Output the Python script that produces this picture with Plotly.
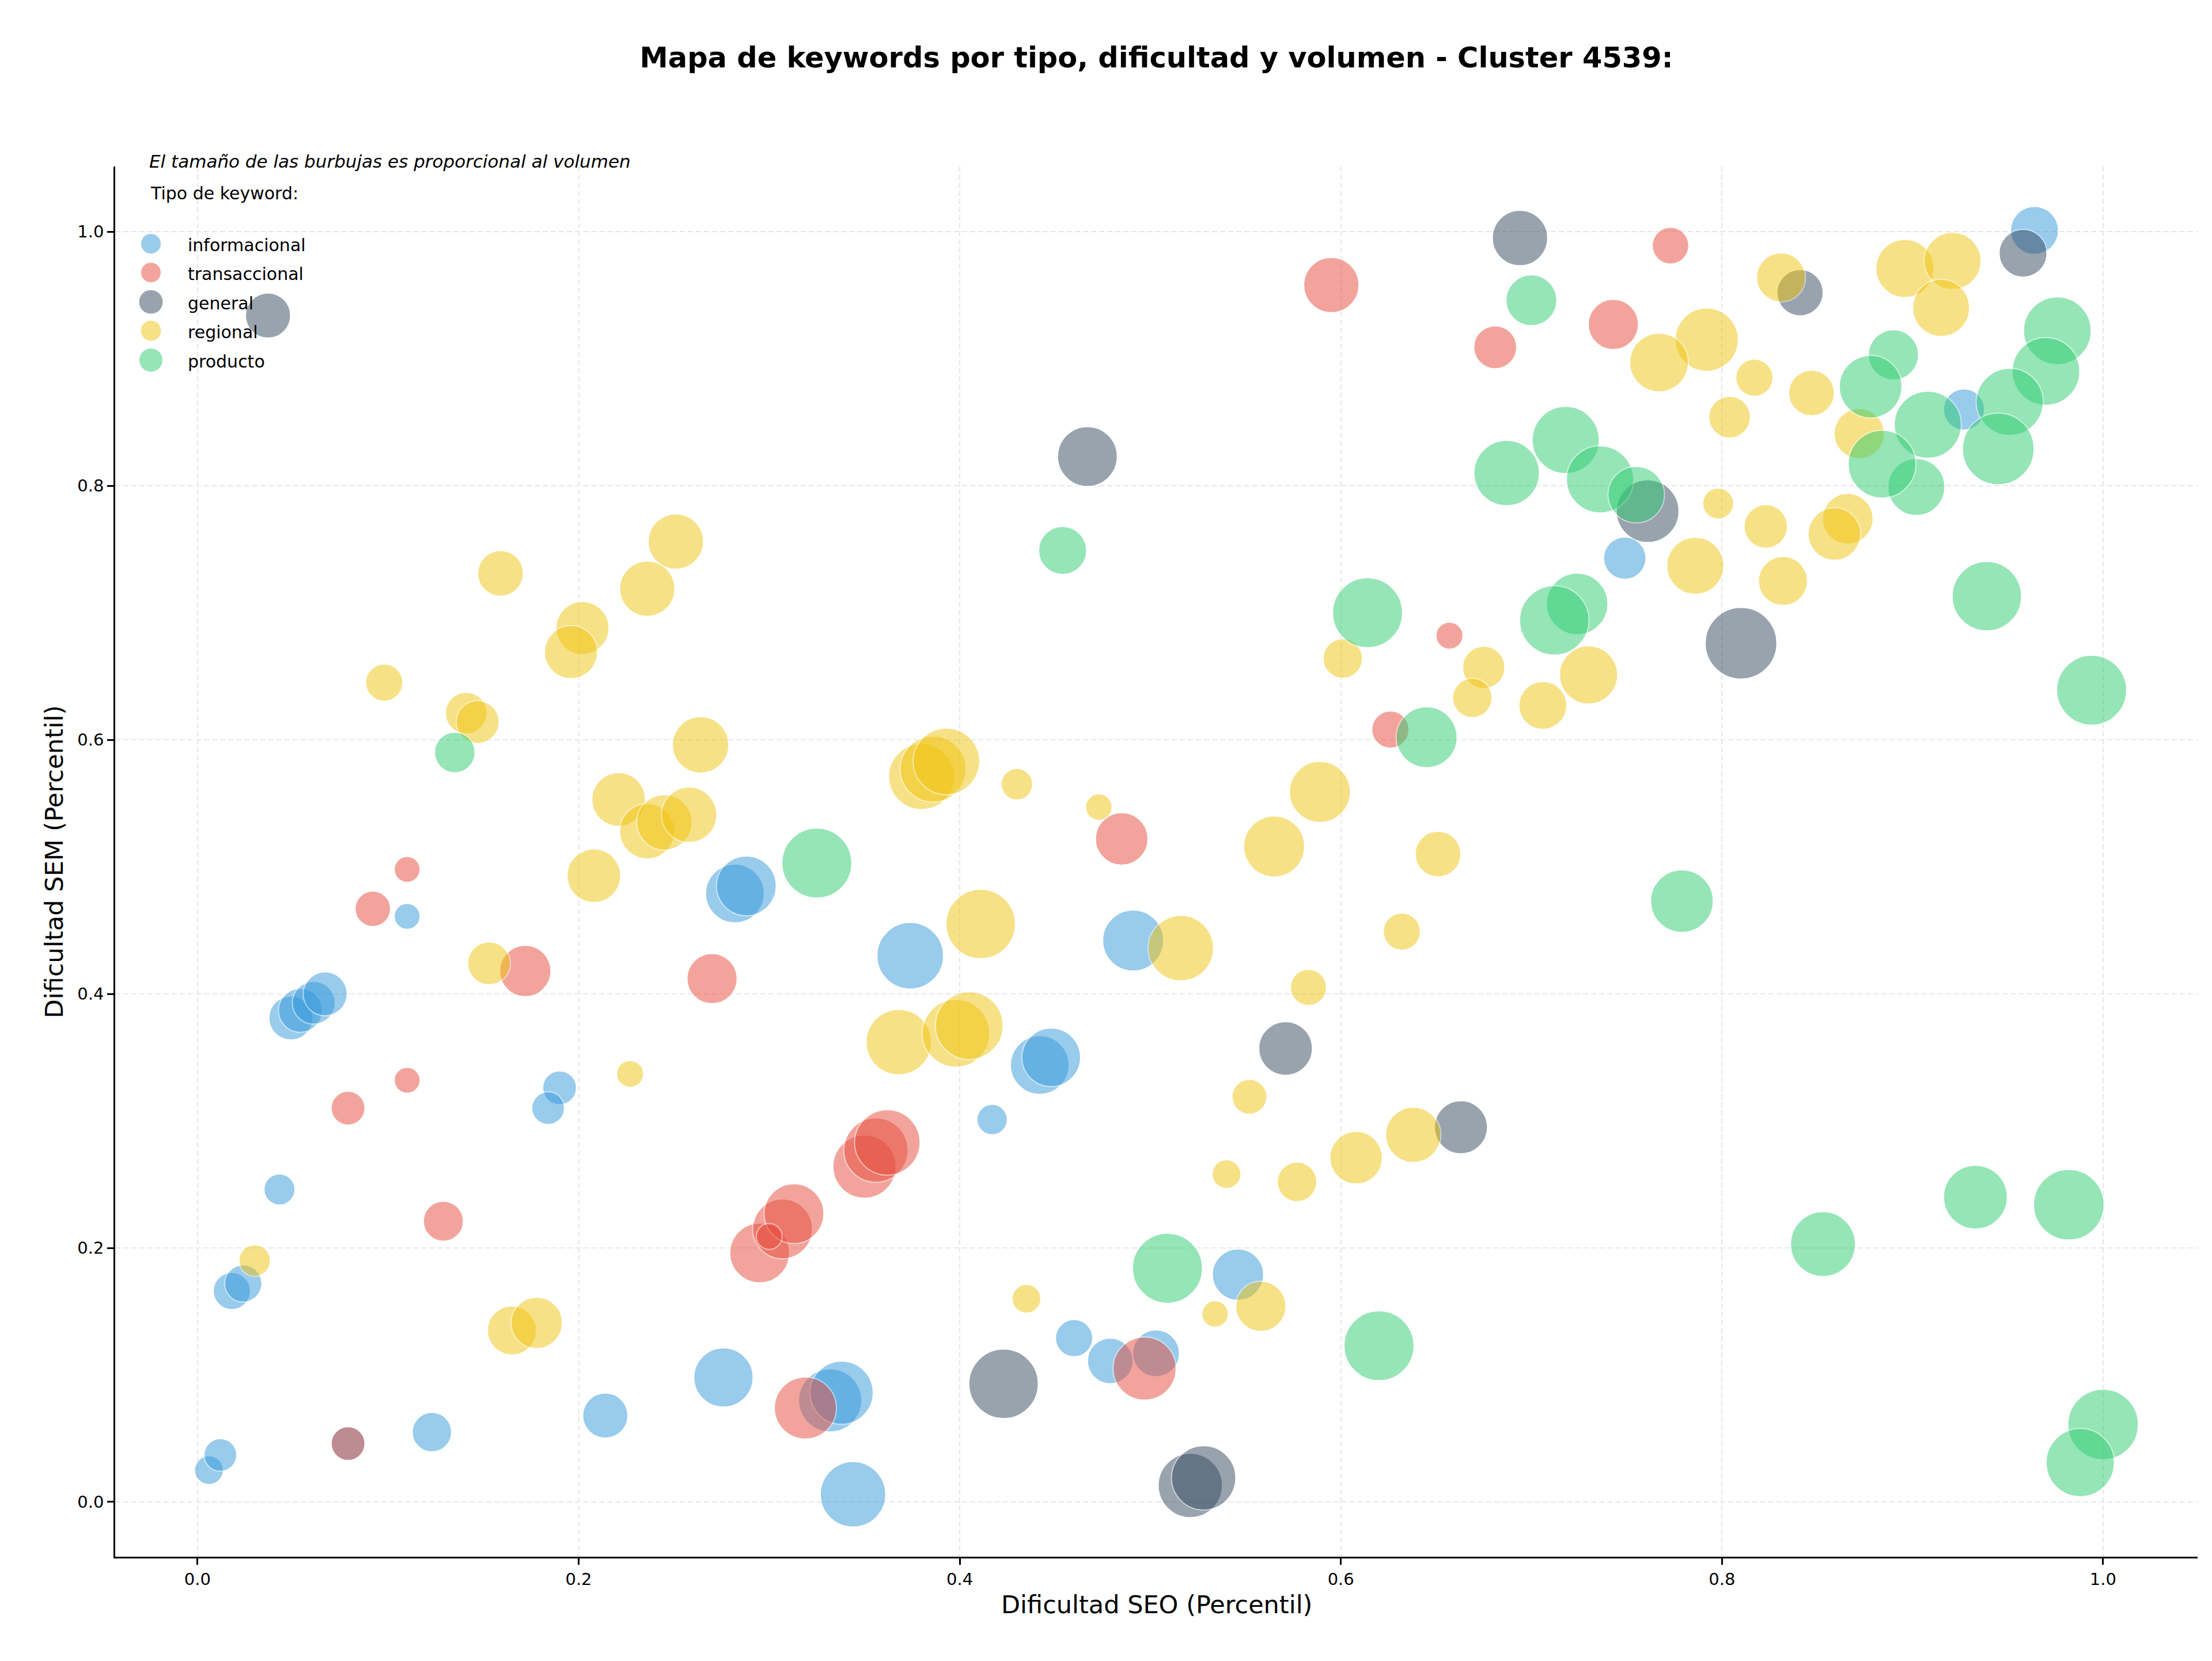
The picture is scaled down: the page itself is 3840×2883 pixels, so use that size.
import plotly.graph_objects as go

# ---------------- data ----------------
tipos = ["informacional", "transaccional", "general", "regional", "producto"]
colores = ["#3498db", "#e74c3c", "#34495e", "#f1c40f", "#2ecc71"]

info_seo = [0.964, 0.927, 0.749, 0.282, 0.288, 0.374, 0.491, 0.442, 0.448, 0.417, 0.110,
            0.049, 0.054, 0.061, 0.067, 0.190, 0.184, 0.043, 0.018, 0.024, 0.006, 0.012,
            0.123, 0.214, 0.276, 0.332, 0.338, 0.344, 0.460, 0.479, 0.503, 0.546, 0.079]
info_sem = [1.001, 0.860, 0.743, 0.479, 0.485, 0.430, 0.442, 0.344, 0.350, 0.301, 0.461,
            0.381, 0.387, 0.393, 0.400, 0.326, 0.310, 0.246, 0.166, 0.172, 0.025, 0.037,
            0.055, 0.068, 0.098, 0.080, 0.086, 0.006, 0.129, 0.111, 0.117, 0.179, 0.046]
info_vol = [452, 333, 352, 676, 702, 870, 729, 676, 676, 182, 132,
            380, 380, 361, 380, 225, 210, 189, 272, 272, 163, 210,
            306, 400, 689, 784, 784, 841, 272, 410, 431, 518, 225]

trans_seo = [0.773, 0.595, 0.681, 0.743, 0.657, 0.626, 0.485, 0.092, 0.110, 0.172, 0.270, 0.110,
             0.079, 0.129, 0.295, 0.307, 0.313, 0.300, 0.350, 0.356, 0.362, 0.319, 0.497, 0.079]
trans_sem = [0.989, 0.958, 0.909, 0.927, 0.682, 0.608, 0.522, 0.467, 0.498, 0.418, 0.412, 0.332,
             0.310, 0.221, 0.196, 0.215, 0.227, 0.209, 0.264, 0.277, 0.283, 0.074, 0.105, 0.046]
trans_vol = [264, 600, 361, 495, 144, 272, 541, 248, 132, 518, 495, 132,
             225, 315, 702, 702, 702, 132, 784, 812, 841, 756, 784, 225]

gen_seo = [0.037, 0.694, 0.841, 0.958, 0.467, 0.761, 0.810, 0.571, 0.663, 0.423, 0.521, 0.528]
gen_sem = [0.934, 0.995, 0.952, 0.983, 0.823, 0.780, 0.676, 0.357, 0.295, 0.093, 0.013, 0.019]
gen_vol = [400, 600, 420, 452, 702, 770, 1008, 564, 552, 946, 812, 812]

reg_seo = [0.251, 0.159, 0.236, 0.202, 0.196, 0.098, 0.141, 0.147, 0.264, 0.221, 0.236, 0.245,
           0.258, 0.208, 0.153, 0.227, 0.030, 0.165, 0.178, 0.380, 0.386, 0.393, 0.430, 0.473,
           0.411, 0.516, 0.368, 0.398, 0.405, 0.435, 0.534, 0.558, 0.540, 0.577, 0.552, 0.583,
           0.632, 0.608, 0.638, 0.565, 0.589, 0.651, 0.601, 0.675, 0.669, 0.706, 0.730, 0.786,
           0.832, 0.798, 0.823, 0.866, 0.859, 0.872, 0.847, 0.817, 0.804, 0.792, 0.767, 0.831,
           0.896, 0.921, 0.915]
reg_sem = [0.756, 0.731, 0.719, 0.688, 0.669, 0.645, 0.621, 0.614, 0.596, 0.553, 0.528, 0.535,
           0.541, 0.493, 0.424, 0.337, 0.190, 0.135, 0.141, 0.571, 0.577, 0.583, 0.565, 0.547,
           0.455, 0.436, 0.362, 0.369, 0.375, 0.160, 0.148, 0.154, 0.258, 0.252, 0.319, 0.405,
           0.449, 0.271, 0.289, 0.516, 0.559, 0.510, 0.664, 0.657, 0.633, 0.627, 0.651, 0.737,
           0.725, 0.786, 0.768, 0.774, 0.762, 0.841, 0.873, 0.885, 0.854, 0.915, 0.897, 0.964,
           0.971, 0.977, 0.940]
reg_vol = [600, 410, 600, 552, 552, 272, 342, 361, 625, 564, 600, 600,
           600, 564, 361, 144, 196, 473, 518, 856, 856, 870, 196, 138,
           946, 841, 841, 900, 900, 163, 138, 495, 163, 306, 240, 256,
           272, 541, 600, 729, 729, 410, 306, 352, 306, 452, 663, 638,
           473, 189, 371, 506, 541, 495, 410, 272, 342, 784, 676, 473,
           663, 638, 638]

prod_seo = [0.700, 0.687, 0.454, 0.614, 0.645, 0.325, 0.135, 0.509, 0.620, 0.779, 0.853, 0.933,
            0.982, 1.000, 0.988, 0.718, 0.736, 0.755, 0.724, 0.712, 0.939, 0.994, 0.976, 0.970,
            0.951, 0.945, 0.908, 0.902, 0.890, 0.878, 0.884]
prod_sem = [0.946, 0.810, 0.749, 0.700, 0.602, 0.503, 0.590, 0.184, 0.123, 0.473, 0.203, 0.240,
            0.234, 0.061, 0.031, 0.836, 0.805, 0.793, 0.707, 0.694, 0.713, 0.639, 0.922, 0.890,
            0.866, 0.829, 0.848, 0.799, 0.903, 0.878, 0.817]
prod_vol = [506, 841, 452, 961, 729, 961, 324, 961, 961, 770, 827, 798,
            977, 977, 915, 885, 885, 625, 743, 946, 946, 961, 900, 900,
            885, 1008, 885, 638, 495, 770, 900]

x_ticks = [0.0, 0.2, 0.4, 0.6, 0.8, 1.0]
y_ticks = [0.0, 0.2, 0.4, 0.6, 0.8, 1.0]

series = [
    (info_seo, info_sem, info_vol),
    (trans_seo, trans_sem, trans_vol),
    (gen_seo, gen_sem, gen_vol),
    (reg_seo, reg_sem, reg_vol),
    (prod_seo, prod_sem, prod_vol),
]

# ---------------- figure ----------------
W, H = 3840, 2883
L, R, T, B = 200, 25, 289, 181
PW, PH = W - L - R, H - T - B
FONT = "DejaVu Sans"
SIZEREF = 0.13

fig = go.Figure()
for name, col, (xs, ys, vs) in zip(tipos, colores, series):
    fig.add_trace(go.Scatter(
        x=xs, y=ys, mode="markers", name=name, legendgroup=name, showlegend=False,
        marker=dict(size=vs, sizemode="area", sizeref=SIZEREF, color=col,
                    opacity=0.5, line=dict(color="white", width=2)),
    ))

axis_common = dict(
    showline=True, linecolor="black", linewidth=2.5, mirror=False,
    ticks="outside", ticklen=11, tickwidth=2.5, tickcolor="black",
    tickfont=dict(family=FONT, size=29, color="black"),
    showgrid=True, gridcolor="#e6e6e6", gridwidth=2, griddash="9px,5px",
    zeroline=False, tickformat=".1f",
)

fig.update_layout(
    width=W, height=H,
    margin=dict(l=L, r=R, t=T, b=B, pad=0),
    paper_bgcolor="white", plot_bgcolor="white",
    font=dict(family=FONT, color="black"),
    title=dict(text="Mapa de keywords por tipo, dificultad y volumen - Cluster 4539:",
               font=dict(family=FONT, size=49.5, color="black", weight="bold"),
               x=0.5, xref="paper", xanchor="center",
               y=1 - 100 / H, yref="container", yanchor="middle"),
    xaxis=dict(range=[-0.0432, 1.0496], tickvals=x_ticks, **axis_common),
    yaxis=dict(range=[-0.0431, 1.0513], tickvals=y_ticks, **axis_common),
    showlegend=False,
)

# ---- legend block (drawn as in the reference: note, title, large swatches) ----
def px_x(px):
    return (px - L) / PW


def px_y(py):
    return 1 - (py - T) / PH


fig.add_annotation(text="<i>El tamaño de las burbujas es proporcional al volumen</i>",
                   xref="paper", yref="paper", x=px_x(257), y=px_y(280),
                   xanchor="left", yanchor="middle", showarrow=False,
                   font=dict(family=FONT, size=31, color="black"))
fig.add_annotation(text="Tipo de keyword:",
                   xref="paper", yref="paper", x=px_x(259), y=px_y(335),
                   xanchor="left", yanchor="middle", showarrow=False,
                   font=dict(family=FONT, size=30, color="black"))

legend_rows = [423, 473, 524, 574, 625]
legend_diam = [35, 35, 42, 36, 41]
for name, col, cy, d in zip(tipos, colores, legend_rows, legend_diam):
    r = d / 2
    fig.add_shape(type="circle", xref="paper", yref="paper",
                  xsizemode="pixel", ysizemode="pixel",
                  xanchor=px_x(262), yanchor=px_y(cy),
                  x0=-r, x1=r, y0=-r, y1=r,
                  fillcolor=col, opacity=0.5, line=dict(color="white", width=1),
                  layer="above")
    fig.add_annotation(text=name, xref="paper", yref="paper",
                       x=px_x(324), y=px_y(cy + 2), xanchor="left", yanchor="middle",
                       showarrow=False, font=dict(family=FONT, size=30, color="black"))

fig.add_annotation(text="Dificultad SEO (Percentil)",
                   xref="paper", yref="paper", x=0.5, y=0, yshift=-83,
                   xanchor="center", yanchor="middle", showarrow=False,
                   font=dict(family=FONT, size=43, color="black"))
fig.add_annotation(text="Dificultad SEM (Percentil)", textangle=-90,
                   xref="paper", yref="paper", x=0, xshift=93 - L, y=0.5,
                   xanchor="center", yanchor="middle", showarrow=False,
                   font=dict(family=FONT, size=43, color="black"))

fig.write_html("out.html")
